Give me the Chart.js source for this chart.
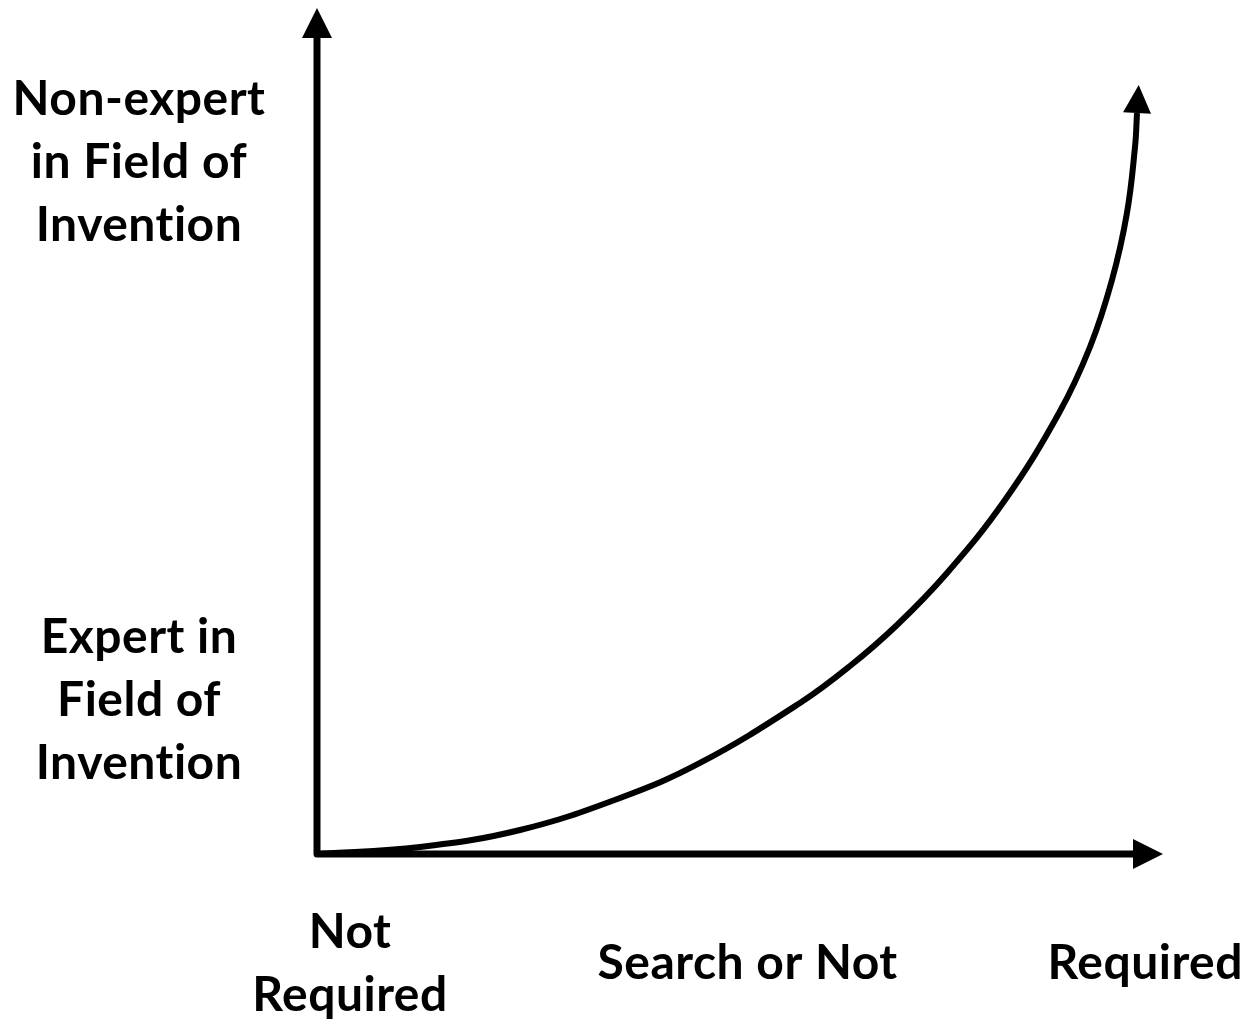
<!DOCTYPE html>
<html>
<head>
<meta charset="utf-8">
<script src="https://cdn.jsdelivr.net/npm/chart.js@4"></script>
<style>
  html, body { margin: 0; padding: 0; background: #fff; }
  #wrap { width: 1249px; height: 1021px; }
</style>
</head>
<body>
<div id="wrap"><canvas id="chart" width="1249" height="1021"></canvas></div>
<script>
// Curve: search requirement (x) vs. level of expertise (y), 0..100 units
const curveX = [0, 12.17, 24.0, 35.82, 45.27, 57.09, 63.0, 68.56, 74.47, 81.32, 87.71, 91.37, 93.97, 95.74, 96.69, 96.93];
const curveY = [0, 0.83, 2.84, 6.62, 10.76, 17.85, 22.22, 27.07, 33.22, 41.84, 52.13, 59.93, 67.85, 75.77, 83.57, 87.59];

// Axis category labels
const xLabels = [["Not", "Required"], ["Search or Not"], ["Required"]];
const yLabels = [["Non-expert", "in Field of", "Invention"], ["Expert in", "Field of", "Invention"]];

const FONT = "bold 48px Lato, 'Open Sans', sans-serif";

// draws the arrowed axes, the arrow at the end of the curve and the labels
const diagramPlugin = {
  id: 'diagram',
  afterDatasetsDraw(chart, args, opts) {
    const ctx = chart.ctx;
    const xs = chart.scales.x, ys = chart.scales.y;
    const x0 = xs.getPixelForValue(0), y0 = ys.getPixelForValue(0);
    const xEnd = xs.getPixelForValue(xs.max), yEnd = ys.getPixelForValue(ys.max);
    const head = 30, half = 15;

    ctx.save();
    ctx.fillStyle = '#000';
    ctx.strokeStyle = '#000';

    // axes
    ctx.lineWidth = 7;
    ctx.lineJoin = 'round';
    ctx.beginPath();
    ctx.moveTo(x0, yEnd + head);
    ctx.lineTo(x0, y0);
    ctx.lineTo(xEnd - head, y0);
    ctx.stroke();

    // y arrow head
    ctx.beginPath();
    ctx.moveTo(x0, yEnd);
    ctx.lineTo(x0 - half, yEnd + head);
    ctx.lineTo(x0 + half, yEnd + head);
    ctx.closePath();
    ctx.fill();

    // x arrow head
    ctx.beginPath();
    ctx.moveTo(xEnd, y0);
    ctx.lineTo(xEnd - head, y0 - half);
    ctx.lineTo(xEnd - head, y0 + half);
    ctx.closePath();
    ctx.fill();

    // curve arrow head, pointing along the curve's end tangent
    const pts = chart.getDatasetMeta(0).data;
    const b = pts[pts.length - 1];
    let ax = b.cp1x, ay = b.cp1y;
    if (ax === undefined || Math.hypot(b.x - ax, b.y - ay) < 0.5) {
      ax = pts[pts.length - 2].x; ay = pts[pts.length - 2].y;
    }
    let dx = b.x - ax, dy = b.y - ay;
    const len = Math.hypot(dx, dy);
    dx /= len; dy /= len;
    const h2 = 28, w2 = 14;
    ctx.beginPath();
    ctx.moveTo(b.x + dx * h2, b.y + dy * h2);
    ctx.lineTo(b.x - dy * w2, b.y + dx * w2);
    ctx.lineTo(b.x + dy * w2, b.y - dx * w2);
    ctx.closePath();
    ctx.fill();

    // labels
    ctx.font = FONT;
    ctx.letterSpacing = '0.5px'; // also stops Lato's "ti" ligature
    ctx.textAlign = 'center';
    ctx.textBaseline = 'middle';
    const lh = 63;
    xLabels.forEach((lines, i) => {
      const cx = xs.getPixelForValue(opts.xAt[i]);
      const cy = opts.xRow;
      lines.forEach((t, k) => {
        ctx.fillText(t, cx, cy + (k - (lines.length - 1) / 2) * lh);
      });
    });
    yLabels.forEach((lines, i) => {
      const cy = ys.getPixelForValue(opts.yAt[i]);
      lines.forEach((t, k) => {
        ctx.fillText(t, opts.yCol, cy + (k - (lines.length - 1) / 2) * lh);
      });
    });
    ctx.restore();
  }
};

new Chart(document.getElementById('chart'), {
  type: 'line',
  data: {
    datasets: [{
      data: curveX.map((x, i) => ({ x: x, y: curveY[i] })),
      borderColor: '#000',
      borderWidth: 6,
      pointRadius: 0,
      fill: false,
      tension: 0.4
    }]
  },
  options: {
    responsive: false,
    animation: false,
    layout: { padding: { left: 317, right: 86, top: 8, bottom: 167 } },
    scales: {
      x: { type: 'linear', min: 0, max: 100, display: false },
      y: { type: 'linear', min: 0, max: 100, display: false }
    },
    plugins: {
      legend: { display: false },
      tooltip: { enabled: false },
      diagram: {
        xAt: [3.9, 50.9, 97.9],
        xRow: 964,
        yAt: [81.7, 18.2],
        yCol: 139
      }
    }
  },
  plugins: [diagramPlugin]
});
</script>
</body>
</html>
